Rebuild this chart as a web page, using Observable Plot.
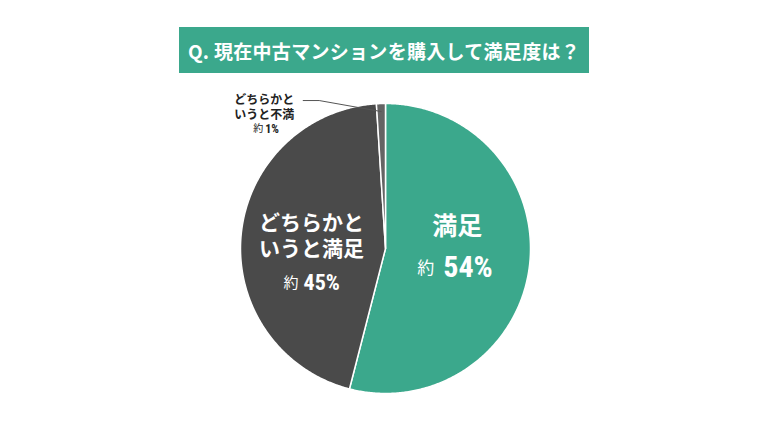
<!DOCTYPE html>
<html><head><meta charset="utf-8">
<script src="https://cdn.jsdelivr.net/npm/d3@7"></script>
<script src="https://cdn.jsdelivr.net/npm/@observablehq/plot@0.6"></script>
<style>
body{margin:0;background:#fff;width:770px;height:433px;overflow:hidden;font-family:"Noto Sans CJK JP",sans-serif;}
#title{position:absolute;left:179px;top:27px;width:410px;height:46px;background:#3ba88c;color:#fff;font-weight:700;font-size:19px;display:flex;align-items:center;justify-content:center;letter-spacing:0.3px;}
#chart{position:absolute;left:0;top:80px;}
</style></head><body>
<div id="title"></div>
<div id="chart"></div>
<script>
const titleText = "Q. 現在中古マンションを購入して満足度は？";
const categories = ["満足", "どちらかと\nいうと満足", "どちらかと\nいうと不満"];
const values = [54, 45, 1];
const pctLabels = ["54%", "45%", "1%"];
const prefix = "約";
const colors = ["#3ba88c", "#4a4a4a", "#646464"];

document.getElementById("title").textContent = titleText;

const W = 770, H = 353, R = 145, CY = 168;
const JP = "Noto Sans CJK JP";
const NUM = "'Roboto Condensed', 'DejaVu Sans Condensed', Roboto, sans-serif";
const arcs = d3.pie().sort(null).value(d => d.value)(
  categories.map((c, i) => ({cat: c, value: values[i], pct: pctLabels[i]}))
);

const poly = [];
arcs.forEach(a => {
  const n = Math.max(4, Math.ceil((a.endAngle - a.startAngle) / (Math.PI / 360)));
  poly.push({cat: a.data.cat, x: 0, y: 0});
  for (let k = 0; k <= n; k++) {
    const t = a.startAngle + (a.endAngle - a.startAngle) * k / n;
    poly.push({cat: a.data.cat, x: R * Math.sin(t), y: R * Math.cos(t)});
  }
  poly.push({cat: a.data.cat, x: 0, y: 0});
});

const anchor = (a, k) => {
  const m = (a.startAngle + a.endAngle) / 2;
  return {cat: a.data.cat, pct: a.data.pct, x: k * R * Math.sin(m), y: k * R * Math.cos(m)};
};
const labG = [anchor(arcs[0], 0.45)];
const labD = [anchor(arcs[1], 0.45)];
const p0 = anchor(arcs[2], 0.945);
const p1 = {x: p0.x - 62, y: p0.y + 11};
const p2 = {x: p1.x - 16, y: p1.y};
const leader = [p0, p1, p2];
const labS = [{cat: arcs[2].data.cat, pct: arcs[2].data.pct, x: p2.x, y: p2.y}];

const chart = Plot.plot({
  width: W, height: H, margin: 0,
  x: {domain: [-W / 2, W / 2], axis: null},
  y: {domain: [-(H - CY), CY], axis: null},
  color: {domain: categories, range: colors},
  marks: [
    Plot.line(poly, {x: "x", y: "y", z: "cat", fill: "cat", stroke: "white", strokeWidth: 1.5, strokeLinejoin: "round"}),
    Plot.line(leader, {x: "x", y: "y", stroke: "#555", strokeWidth: 1}),
    // 満足
    Plot.text(labG, {x: "x", y: "y", text: "cat", fill: "white", fontSize: 25, fontWeight: 700, fontFamily: JP, dx: 7, dy: -30}),
    Plot.text(labG, {x: "x", y: "y", text: () => prefix, fill: "white", fontSize: 17, fontWeight: 400, fontFamily: JP, textAnchor: "end", dx: -16, dy: 12}),
    Plot.text(labG, {x: "x", y: "y", text: "pct", fill: "white", fontSize: 30, fontWeight: 700, fontFamily: NUM, textAnchor: "start", dx: -7, dy: 11, letterSpacing: -0.5}),
    // どちらかというと満足
    Plot.text(labD, {x: "x", y: "y", text: "cat", fill: "white", fontSize: 21, fontWeight: 700, fontFamily: JP, lineHeight: 1.24, dx: -9, dy: -8}),
    Plot.text(labD, {x: "x", y: "y", text: () => prefix, fill: "white", fontSize: 15, fontWeight: 400, fontFamily: JP, textAnchor: "end", dx: -22, dy: 41}),
    Plot.text(labD, {x: "x", y: "y", text: "pct", fill: "white", fontSize: 22, fontWeight: 700, fontFamily: NUM, textAnchor: "start", dx: -17, dy: 41, letterSpacing: -0.5}),
    // どちらかというと不満
    Plot.text(labS, {x: "x", y: "y", text: "cat", fill: "#222", fontSize: 12, fontWeight: 700, fontFamily: JP, lineHeight: 1.28, dx: -39, dy: 6}),
    Plot.text(labS, {x: "x", y: "y", text: () => prefix, fill: "#222", fontSize: 10, fontWeight: 400, fontFamily: JP, textAnchor: "end", dx: -40, dy: 28.5}),
    Plot.text(labS, {x: "x", y: "y", text: "pct", fill: "#222", fontSize: 12, fontWeight: 700, fontFamily: NUM, textAnchor: "start", dx: -38, dy: 28.5, letterSpacing: -0.3})
  ]
});
document.getElementById("chart").appendChild(chart);
</script>
</body></html>
